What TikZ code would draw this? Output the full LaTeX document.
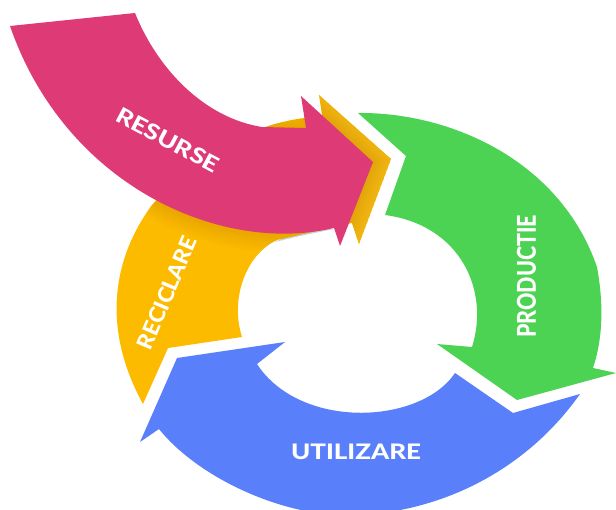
\documentclass[tikz,border=0pt]{standalone}
\usepackage{graphicx}
\usepackage{fontspec}
\setmainfont{Lato}[BoldFont=* Heavy]
\definecolor{pinkA}{HTML}{DE3A76}
\definecolor{orangeA}{HTML}{FDBB00}
\definecolor{orangeB}{HTML}{F6BA14}
\definecolor{greenA}{HTML}{4DD354}
\definecolor{blueA}{HTML}{5A7FFB}
\definecolor{shadeA}{HTML}{C9D2DC}
\tikzset{lbl/.style={text=white,font=\bfseries\fontsize{22}{22}\selectfont,inner sep=0pt},
  softshade/.style={black,opacity=.006}}
\newcommand{\orangepath}{(143,404) .. controls (105,335) and (108,265) .. (152,205)
  -- (200,150) -- (265,127) .. controls (280,122) and (295,119) .. (305,118)
  -- (322,115) -- (319,95) -- (391,159) -- (359,244) -- (352,223) -- (330,228) -- (277,240)
  .. controls (245,255) and (230,300) .. (242,337) -- (168,348) -- cycle}
\newcommand{\pinkpath}{(10,26) -- (135,13)
  .. controls (158,70) and (205,118) .. (262,127) -- (306,128)
  -- (301,96) -- (373,162) -- (340,246) -- (334,228)
  .. controls (220,255) and (65,185) .. (10,26) -- cycle}
\begin{document}
\begin{tikzpicture}[x=1pt,y=-1pt]
\useasboundingbox (0,0) rectangle (616,510);
\clip (0,0) rectangle (616,510);
% orange
\fill[shadeA] (275,242) -- (300,236) -- (334,229) -- (300,229) -- cycle;
\fill[orangeA] \orangepath;
\begin{scope}
  \clip \orangepath;
  \fill[orangeB] (319,95) -- (391,159) -- (359,244) -- (352,223) -- (330,190) -- (340,150) -- cycle;
  \foreach \w in {40,36,32,28,24,20,16,12,8,4}
    \draw[softshade,line width=\w pt] \pinkpath;
\end{scope}
% green
\fill[greenA] (358,113) .. controls (450,112) and (560,160) .. (597,267)
  .. controls (603,300) and (604,335) .. (593,368)
  -- (616,373) -- (517,400) -- (437,344) -- (472,347)
  .. controls (490,290) and (460,225) .. (385,215)
  -- (406,156) -- cycle;
% blue
\fill[blueA] (285,342) -- (177,358) -- (140,442) -- (159,429)
  .. controls (200,480) and (290,520) .. (360,515)
  .. controls (450,510) and (530,465) .. (580,394)
  -- (513,413) -- (455,373)
  .. controls (420,425) and (300,430) .. (257,364)
  -- cycle;
% pink
\fill[pinkA] \pinkpath;
\node[lbl,rotate=-28] (resurse) at (168,140) {\resizebox{113pt}{16pt}{RESURSE}};
\node[lbl,rotate=67] (reciclare) at (167,293) {\resizebox{120pt}{16pt}{RECICLARE}};
\node[lbl,rotate=90] (productie) at (526.5,276.5) {\resizebox{123pt}{19pt}{PRODUCTIE}};
\node[lbl] (utilizare) at (356,451.5) {\resizebox{130pt}{15.5pt}{UTILIZARE}};
\end{tikzpicture}
\end{document}
